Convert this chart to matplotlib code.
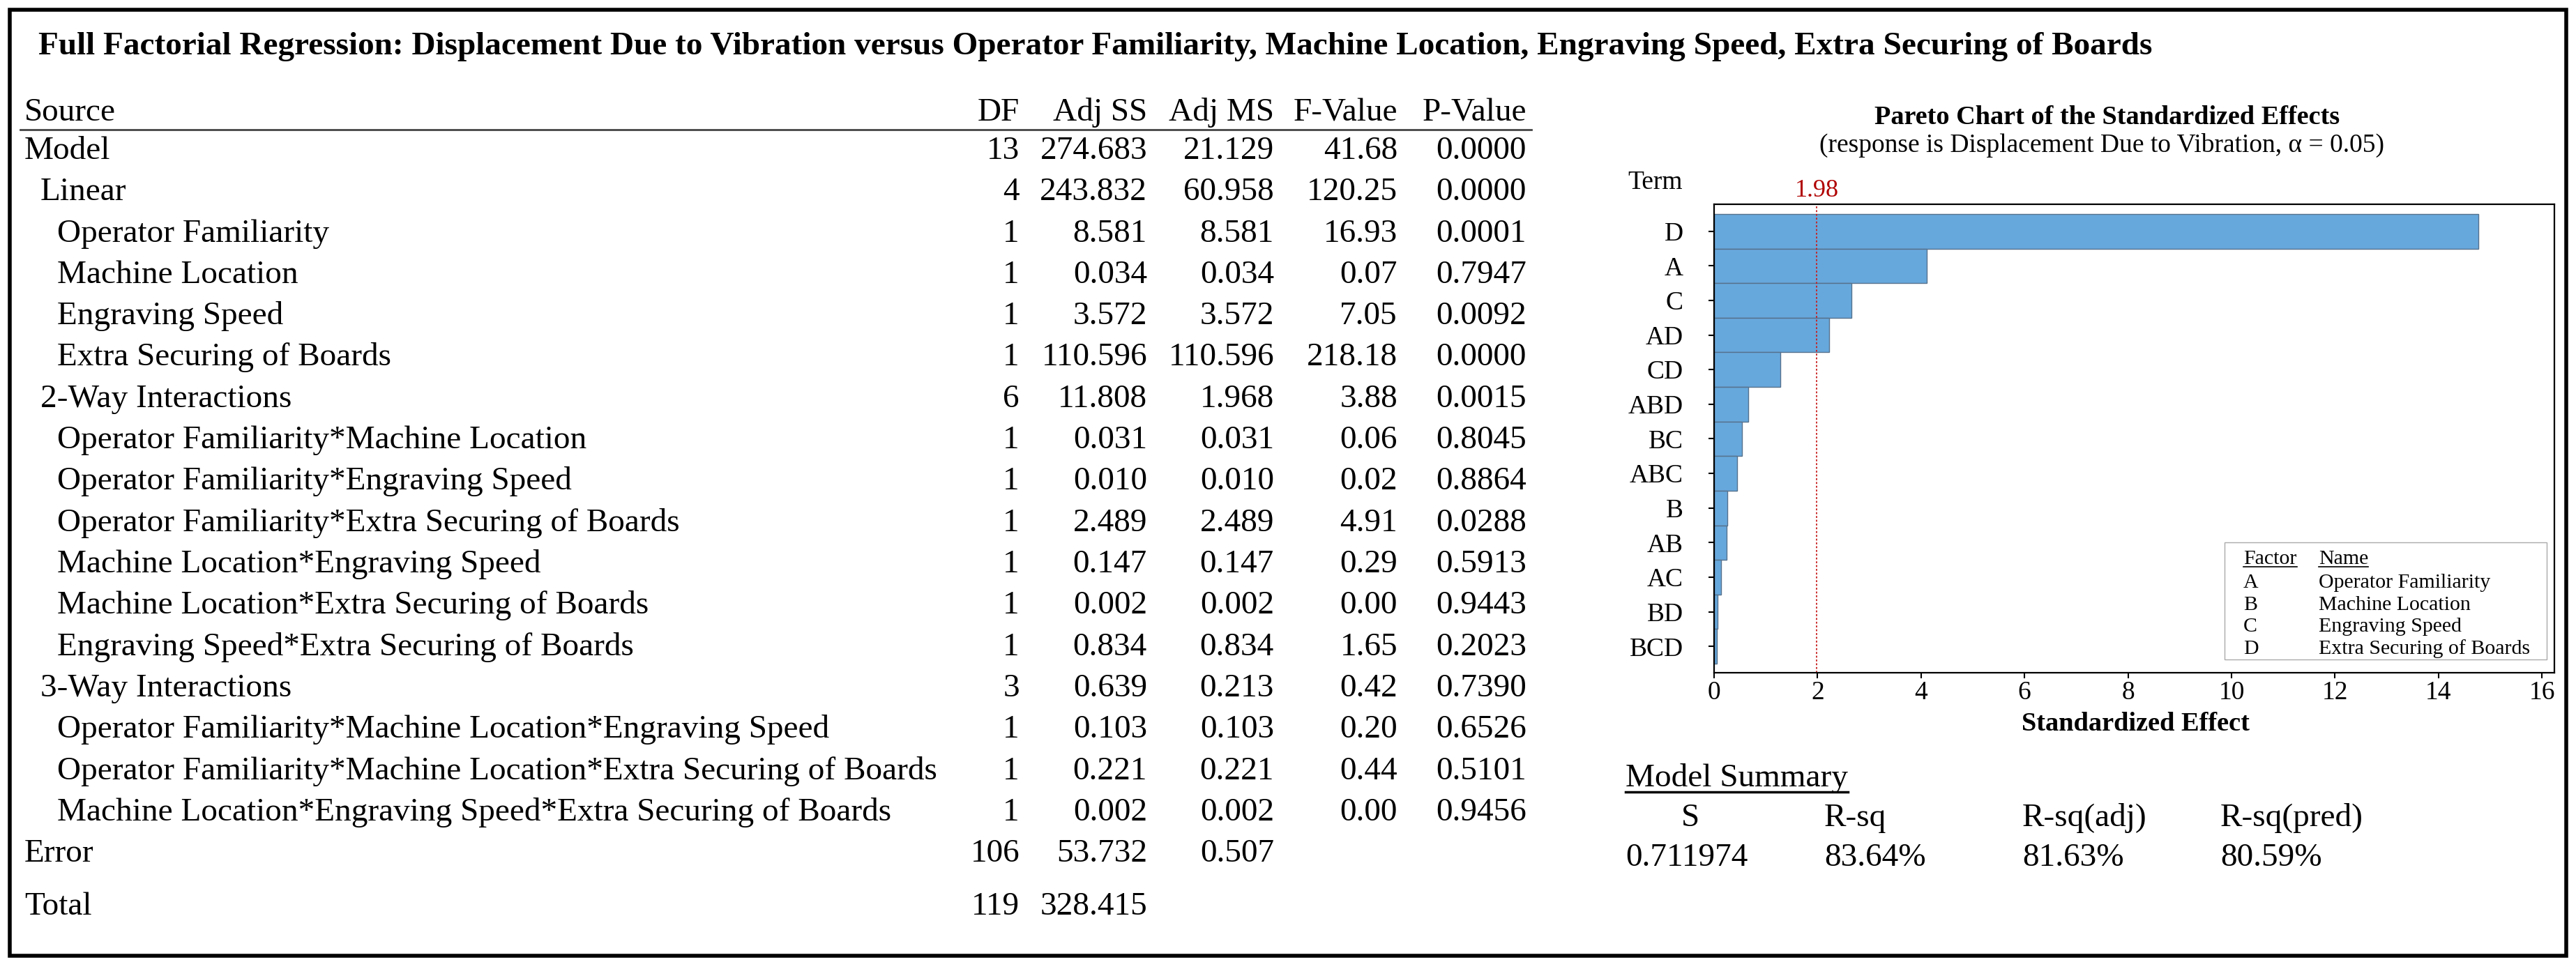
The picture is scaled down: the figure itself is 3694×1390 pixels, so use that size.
import matplotlib
matplotlib.use("Agg")
import matplotlib.pyplot as plt
from matplotlib.patches import Rectangle
from matplotlib.lines import Line2D

plt.rcParams['font.family'] = ['Liberation Serif', 'DejaVu Serif']

W, H = 3694, 1390

# ANOVA table
title = ("Full Factorial Regression: Displacement Due to Vibration versus Operator "
         "Familiarity, Machine Location, Engraving Speed, Extra Securing of Boards")
columns = ["DF", "Adj SS", "Adj MS", "F-Value", "P-Value"]
sources = ["Model", "Linear", "Operator Familiarity", "Machine Location",
           "Engraving Speed", "Extra Securing of Boards", "2-Way Interactions",
           "Operator Familiarity*Machine Location",
           "Operator Familiarity*Engraving Speed",
           "Operator Familiarity*Extra Securing of Boards",
           "Machine Location*Engraving Speed",
           "Machine Location*Extra Securing of Boards",
           "Engraving Speed*Extra Securing of Boards", "3-Way Interactions",
           "Operator Familiarity*Machine Location*Engraving Speed",
           "Operator Familiarity*Machine Location*Extra Securing of Boards",
           "Machine Location*Engraving Speed*Extra Securing of Boards",
           "Error", "Total"]
levels = [0, 1, 2, 2, 2, 2, 1, 2, 2, 2, 2, 2, 2, 1, 2, 2, 2, 0, 0]
dof = [13, 4, 1, 1, 1, 1, 6, 1, 1, 1, 1, 1, 1, 3, 1, 1, 1, 106, 119]
adj_ss = [274.683, 243.832, 8.581, 0.034, 3.572, 110.596, 11.808, 0.031, 0.010,
          2.489, 0.147, 0.002, 0.834, 0.639, 0.103, 0.221, 0.002, 53.732, 328.415]
adj_ms = [21.129, 60.958, 8.581, 0.034, 3.572, 110.596, 1.968, 0.031, 0.010,
          2.489, 0.147, 0.002, 0.834, 0.213, 0.103, 0.221, 0.002, 0.507, None]
f_val = [41.68, 120.25, 16.93, 0.07, 7.05, 218.18, 3.88, 0.06, 0.02, 4.91, 0.29,
         0.00, 1.65, 0.42, 0.20, 0.44, 0.00, None, None]
p_val = [0.0000, 0.0000, 0.0001, 0.7947, 0.0092, 0.0000, 0.0015, 0.8045, 0.8864,
         0.0288, 0.5913, 0.9443, 0.2023, 0.7390, 0.6526, 0.5101, 0.9456, None, None]

# Pareto chart
terms = ["D", "A", "C", "AD", "CD", "ABD", "BC", "ABC", "B", "AB", "AC", "BD", "BCD"]
effects = [14.77, 4.11, 2.66, 2.22, 1.28, 0.66, 0.54, 0.45, 0.26, 0.24, 0.14, 0.07, 0.06]
crit = 1.98
factor_keys = ["A", "B", "C", "D"]
factor_names = ["Operator Familiarity", "Machine Location", "Engraving Speed",
                "Extra Securing of Boards"]

# model summary
summary_heads = ["S", "R-sq", "R-sq(adj)", "R-sq(pred)"]
summary_vals = ["0.711974", "83.64%", "81.63%", "80.59%"]


def fx(x):
    return x / W


def fy(y):
    return 1 - y / H


fig = plt.figure(figsize=(W / 100, H / 100), dpi=100)
fig.patch.set_facecolor('white')

fs = 34
fig.patches.append(Rectangle((fx(14), fy(1371)), fx(3680) - fx(14), fy(14) - fy(1371),
                             fill=False, lw=4, edgecolor='black',
                             transform=fig.transFigure))
fig.text(fx(55), fy(78), title, fontsize=34, weight='bold', va='baseline')

# table
col_x = [1462, 1645, 1827, 2004, 2189]
fig.text(fx(35), fy(173), "Source", fontsize=fs, va='baseline')
for c, x in zip(columns, col_x):
    fig.text(fx(x), fy(173), c, fontsize=fs, va='baseline', ha='right')
fig.add_artist(Line2D([fx(29), fx(2196)], [fy(186), fy(186)], color='#444444',
                      lw=2, transform=fig.transFigure))

indent_x = [35, 58, 82]
for i, name in enumerate(sources):
    y = 228 + i * 59.3 if i < 18 else 1312
    fig.text(fx(indent_x[levels[i]]), fy(y), name, fontsize=fs, va='baseline')
    cells = [str(dof[i]),
             None if adj_ss[i] is None else f"{adj_ss[i]:.3f}",
             None if adj_ms[i] is None else f"{adj_ms[i]:.3f}",
             None if f_val[i] is None else f"{f_val[i]:.2f}",
             None if p_val[i] is None else f"{p_val[i]:.4f}"]
    for s, x in zip(cells, col_x):
        if s is not None:
            fig.text(fx(x), fy(y), s, fontsize=fs, va='baseline', ha='right')

# pareto chart
ax = fig.add_axes([fx(2458), fy(965), (3663 - 2458) / W, (965 - 293) / H])
ypos = list(range(len(terms)))
ax.barh(ypos, effects, height=1.0, color='#67A8DC', edgecolor='#56718C', lw=1)
ax.axvline(crit, color='#C81E1E', ls=(0, (1.5, 1.5)), lw=1.3)
ax.annotate(f"{crit:.2f}", xy=(crit, 1), xycoords=('data', 'axes fraction'),
            xytext=(0, 8), textcoords='offset points', ha='center', va='baseline',
            color='#B00000', fontsize=26)
ax.set_xlim(0, 16.24)
ax.set_ylim(len(terms) - 0.24, -0.78)
ax.set_xticks(range(0, 17, 2))
ax.set_yticks(ypos)
ax.set_yticklabels(terms)
ax.tick_params(labelsize=27, length=6, width=1.5, direction='out')
ax.tick_params(axis='y', pad=26)
ax.tick_params(axis='x', pad=2)
for sp in ax.spines.values():
    sp.set_linewidth(1.6)

ax.add_patch(Rectangle((0.6075, 0.028), 0.3835, 0.25, transform=ax.transAxes,
                       facecolor='white', edgecolor='#AAAAAA', lw=1, zorder=3))
leg_fs = 21.5
leg_texts = []
leg_texts.append(ax.text(0.630, 0.2321, "Factor", transform=ax.transAxes,
                         fontsize=leg_fs, va='baseline', zorder=4))
leg_texts.append(ax.text(0.7195, 0.2321, "Name", transform=ax.transAxes,
                         fontsize=leg_fs, va='baseline', zorder=4))
for k, (key, name) in enumerate(zip(factor_keys, factor_names)):
    yy = 0.1815 - k * 0.0471
    ax.text(0.630, yy, key, transform=ax.transAxes, fontsize=leg_fs,
            va='baseline', zorder=4)
    ax.text(0.7195, yy, name, transform=ax.transAxes, fontsize=leg_fs,
            va='baseline', zorder=4)

fig.text(fx(2374), fy(271), "Term", fontsize=27, va='baseline', ha='center')
fig.text(fx(3022), fy(178), "Pareto Chart of the Standardized Effects",
         fontsize=27.5, weight='bold', ha='center', va='baseline')
fig.text(fx(3014), fy(218), "(response is Displacement Due to Vibration, \u03b1 = 0.05)",
         fontsize=27, ha='center', va='baseline')
fig.text(fx(3062), fy(1048), "Standardized Effect", fontsize=27.6, weight='bold',
         ha='center', va='baseline')

# model summary
ms_title = fig.text(fx(2331), fy(1128), "Model Summary", fontsize=fs, va='baseline')
sum_x = [2331, 2616, 2900, 3184]
for k, (h, v, x) in enumerate(zip(summary_heads, summary_vals, sum_x)):
    if k == 0:
        fig.text(fx(2424), fy(1185), h, fontsize=fs, va='baseline', ha='center')
    else:
        fig.text(fx(x), fy(1185), h, fontsize=fs, va='baseline')
    fig.text(fx(x), fy(1242), v, fontsize=fs, va='baseline')

# underlines under the header words
fig.canvas.draw()
r = fig.canvas.get_renderer()
for t, lw in [(ms_title, 2.5)] + [(t, 1.2) for t in leg_texts]:
    bb = t.get_window_extent(r)
    yline = bb.y0 + 2
    fig.add_artist(Line2D([bb.x0 / W, bb.x1 / W], [yline / H, yline / H],
                          color='black', lw=lw, transform=fig.transFigure, zorder=5))

fig.savefig("out.png", dpi=100, facecolor='white')
